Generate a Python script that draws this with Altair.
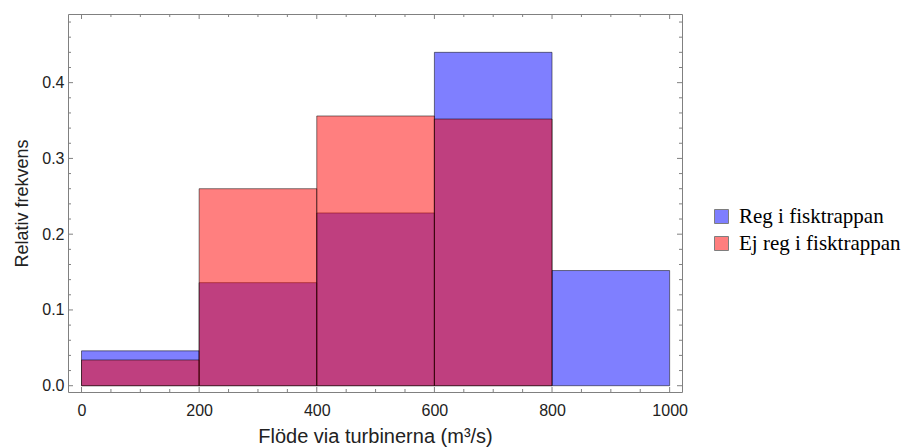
import altair as alt
import pandas as pd

# ---- data ----
series = ["Reg i fisktrappan", "Ej reg i fisktrappan"]
bin_start = [0, 200, 400, 600, 800]
bin_end = [200, 400, 600, 800, 1000]
reg = [0.046, 0.136, 0.228, 0.440, 0.152]
ej_reg = [0.034, 0.260, 0.356, 0.352, 0.0]
colors = ["#0000ff", "#ff0000"]

x_major = [0, 200, 400, 600, 800, 1000]
x_minor = [50, 100, 150, 250, 300, 350, 450, 500, 550, 650, 700, 750, 850, 900, 950]
y_major = [0.0, 0.1, 0.2, 0.3, 0.4]
y_minor = [0.02, 0.04, 0.06, 0.08, 0.12, 0.14, 0.16, 0.18, 0.22, 0.24, 0.26, 0.28,
           0.32, 0.34, 0.36, 0.38, 0.42, 0.44, 0.46, 0.48]

rows = []
for name, vals in zip(series, [reg, ej_reg]):
    for s, e, v in zip(bin_start, bin_end, vals):
        rows.append({"series": name, "x0": s, "x1": e, "freq": v})
df = pd.DataFrame(rows)

W, H = 614, 378
FRAME = "#808080"
TXT = "#222222"

xscale = alt.Scale(domain=[-23, 1021], nice=False, zero=False)
yscale = alt.Scale(domain=[-0.0083, 0.4906], nice=False, zero=False)

x_axis = alt.Axis(values=x_major, format="d", labelPadding=10,
                  title="Flöde via turbinerna (m³/s)", titleFontSize=20,
                  titlePadding=8)
y_axis = alt.Axis(values=y_major, format=".1f", labelPadding=4,
                  title="Relativ frekvens", titleFontSize=18,
                  titlePadding=10)

bars = alt.Chart(df).transform_filter("datum.freq > 0").mark_rect(
    fillOpacity=0.5, stroke="black", strokeOpacity=0.5, strokeWidth=1
).encode(
    x=alt.X("x0:Q", scale=xscale, axis=x_axis),
    x2="x1:Q",
    y=alt.Y("freq:Q", scale=yscale, axis=y_axis),
    y2=alt.datum(0),
    fill=alt.Fill("series:N", scale=alt.Scale(domain=series, range=colors),
                  legend=alt.Legend(title=None, orient="none", legendX=643, legendY=192,
                                    symbolType="square", symbolSize=196,
                                    symbolOpacity=0.5, symbolStrokeColor="black",
                                    symbolStrokeWidth=1,
                                    labelFont="Liberation Serif", labelFontSize=21,
                                    labelColor="black", labelOffset=7,
                                    labelLimit=400,
                                    rowPadding=5, padding=0)),
)


def xticks(vals, length, bottom):
    d = pd.DataFrame({"v": vals})
    y0 = H if bottom else 0
    y1 = H - length if bottom else length
    return alt.Chart(d).mark_rule(color=FRAME, strokeWidth=1).encode(
        x=alt.X("v:Q", scale=xscale, axis=x_axis),
        y=alt.value(y0), y2=alt.value(y1))


def yticks(vals, length, left):
    d = pd.DataFrame({"v": vals})
    x0 = 0 if left else W
    x1 = length if left else W - length
    return alt.Chart(d).mark_rule(color=FRAME, strokeWidth=1).encode(
        y=alt.Y("v:Q", scale=yscale, axis=y_axis),
        x=alt.value(x0), x2=alt.value(x1))


layers = [bars]
for b in (True, False):
    layers.append(xticks(x_major, 5, b))
    layers.append(xticks(x_minor, 3, b))
for l in (True, False):
    layers.append(yticks(y_major, 5, l))
    layers.append(yticks(y_minor, 3, l))

chart = alt.layer(*layers).properties(
    width=W, height=H,
    autosize=alt.AutoSizeParams(type="none"),
    padding={"left": 60, "top": 6, "right": 220, "bottom": 56},
).configure_view(stroke=FRAME, strokeWidth=1).configure_axis(
    domain=False, ticks=False, grid=False,
    labelFont="Liberation Sans", labelFontSize=16, labelColor=TXT,
    titleFont="Liberation Sans", titleFontWeight="normal", titleColor=TXT,
)

chart.save("out.html", embed_options={"renderer": "svg", "actions": False})
